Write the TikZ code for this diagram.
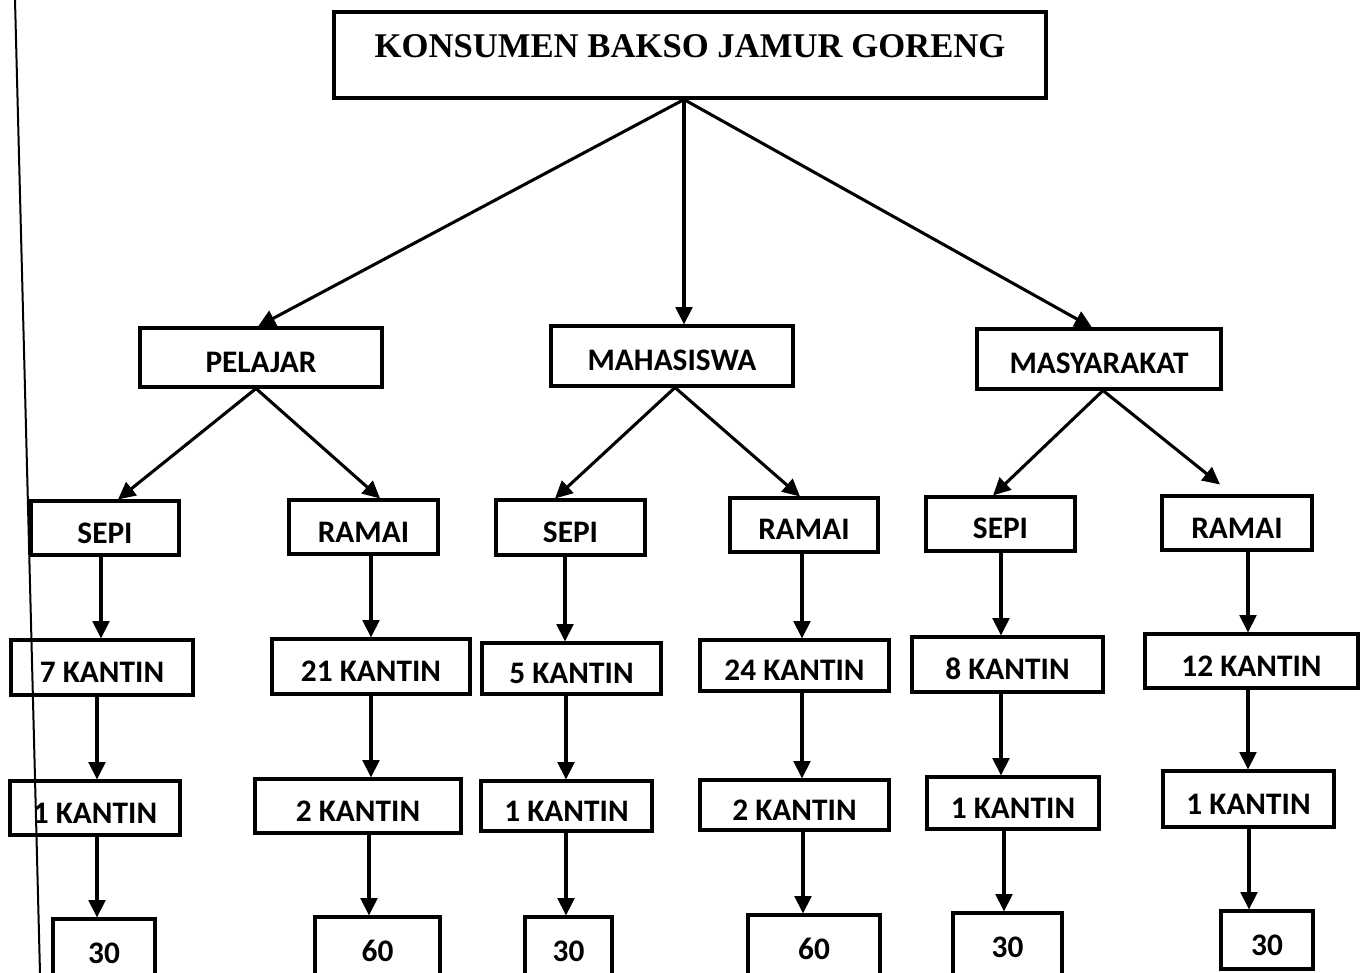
\documentclass[tikz,border=0pt]{standalone}
\usepackage{fontspec}
\usetikzlibrary{arrows.meta}
\newfontfamily\calfont{Carlito}
\newfontfamily\tnrfont{Liberation Serif}
\begin{document}
\begin{tikzpicture}[x=0.75pt,y=-0.75pt,
  box/.style={draw, line width=2.3pt, inner sep=0pt, text height=22.5pt, text depth=0pt, font=\calfont\bfseries\fontsize{23.5}{23.5}\selectfont},
  arr/.style={line width=2.3pt, -{Triangle[length=13pt,width=12.5pt]}},
  ]
\useasboundingbox (0,0) rectangle (1361,973);
\fill[white] (0,0) rectangle (1361,973);
% scan margin line
\draw[line width=1.5pt] (15,0) -- (40,973);
% nodes
\node[box, minimum width=534pt, minimum height=64.5pt, text height=19pt, text depth=15pt, font=\tnrfont\bfseries\fontsize{26}{26}\selectfont] (top) at (690,55) {KONSUMEN BAKSO JAMUR GORENG};
\node[box, minimum width=181.5pt, minimum height=44.25pt] (pel) at (261,357.5) {PELAJAR};
\node[box, minimum width=181.5pt, minimum height=45pt] (mah) at (672,356) {MAHASISWA};
\node[box, minimum width=183pt, minimum height=45pt] (mas) at (1099,359) {MASYARAKAT};
\node[box, minimum width=111pt, minimum height=40.5pt] (s1) at (105,528) {SEPI};
\node[box, minimum width=111.75pt, minimum height=40.5pt] (r1) at (363.5,527) {RAMAI};
\node[box, minimum width=111.75pt, minimum height=41.25pt] (s2) at (570.5,527.5) {SEPI};
\node[box, minimum width=111pt, minimum height=40.5pt] (r2) at (804,525) {RAMAI};
\node[box, minimum width=111.75pt, minimum height=40.5pt] (s3) at (1000.5,524) {SEPI};
\node[box, minimum width=112.5pt, minimum height=40.5pt] (r3) at (1237,523) {RAMAI};
\node[box, minimum width=136.5pt, minimum height=41.25pt] (k1) at (102,667.5) {7 KANTIN};
\node[box, minimum width=148.5pt, minimum height=41.25pt] (k2) at (371,666.5) {21 KANTIN};
\node[box, minimum width=134.25pt, minimum height=38.25pt] (k3) at (571.5,668.5) {5 KANTIN};
\node[box, minimum width=141.75pt, minimum height=38.25pt] (k4) at (794.5,665.5) {24 KANTIN};
\node[box, minimum width=143.25pt, minimum height=41.25pt] (k5) at (1007.5,664.5) {8 KANTIN};
\node[box, minimum width=159.75pt, minimum height=40.5pt] (k6) at (1251.5,661) {12 KANTIN};
\node[box, minimum width=127.5pt, minimum height=40.5pt] (o1) at (95,808) {1 KANTIN};
\node[box, minimum width=154.5pt, minimum height=40.5pt] (o2) at (358,806) {2 KANTIN};
\node[box, minimum width=128.25pt, minimum height=37.5pt] (o3) at (566.5,806) {1 KANTIN};
\node[box, minimum width=141.75pt, minimum height=37.5pt] (o4) at (794.5,805) {2 KANTIN};
\node[box, minimum width=129pt, minimum height=39pt] (o5) at (1013,803) {1 KANTIN};
\node[box, minimum width=128.25pt, minimum height=42pt] (o6) at (1248.5,799) {1 KANTIN};
\node[box, minimum width=76.5pt, minimum height=48pt, text height=19pt] (n1) at (104,951) {30};
\node[box, minimum width=93.75pt, minimum height=48pt, text height=19pt] (n2) at (377.5,949) {60};
\node[box, minimum width=65.25pt, minimum height=48pt, text height=19pt] (n3) at (568.5,949) {30};
\node[box, minimum width=99pt, minimum height=48pt, text height=19pt] (n4) at (814,947) {60};
\node[box, minimum width=81.75pt, minimum height=48pt, text height=19pt] (n5) at (1007.5,945) {30};
\node[box, minimum width=69pt, minimum height=43.5pt] (n6) at (1267,940) {30};
% column coordinates
\coordinate (c1a) at (101,0); \coordinate (c1b) at (97,0);
\coordinate (c2a) at (371,0); \coordinate (c2b) at (369,0);
\coordinate (c3a) at (565,0); \coordinate (c3b) at (566,0);
\coordinate (c4a) at (802,0); \coordinate (c4b) at (803,0);
\coordinate (c5a) at (1001,0); \coordinate (c5b) at (1004,0);
\coordinate (c6a) at (1248,0); \coordinate (c6b) at (1249,0);
% top level arrows
\draw[arr] ([xshift=-4.5pt]top.south) -- ([xshift=-2.25pt]pel.north);
\draw[arr] ([xshift=-4.5pt]top.south) -- ([xshift=9pt]mah.north);
\draw[arr] ([xshift=-4.5pt]top.south) -- ([xshift=-5.25pt]mas.north);
% second level arrows
\draw[arr] ([xshift=-3.75pt]pel.south) -- ([xshift=9.75pt]s1.north);
\draw[arr] ([xshift=-3.75pt]pel.south) -- ([xshift=12.4pt]r1.north);
\draw[arr] ([xshift=2.25pt]mah.south) -- ([xshift=-11.6pt]s2.north);
\draw[arr] ([xshift=2.25pt]mah.south) -- ([xshift=-3pt]r2.north);
\draw[arr] ([xshift=3pt]mas.south) -- ([xshift=-5.6pt]s3.north);
\draw[arr] ([xshift=3pt]mas.south) -- ([xshift=-12.75pt,yshift=7.5pt]r3.north);
% vertical arrows
\draw[arr] (s1.south -| c1a) -- (k1.north -| c1a);
\draw[arr] (k1.south -| c1b) -- (o1.north -| c1b);
\draw[arr] (o1.south -| c1b) -- (n1.north -| c1b);
\draw[arr] (r1.south -| c2a) -- (k2.north -| c2a);
\draw[arr] (k2.south -| c2a) -- (o2.north -| c2a);
\draw[arr] (o2.south -| c2b) -- (n2.north -| c2b);
\draw[arr] (s2.south -| c3a) -- (k3.north -| c3a);
\draw[arr] (k3.south -| c3b) -- (o3.north -| c3b);
\draw[arr] (o3.south -| c3b) -- (n3.north -| c3b);
\draw[arr] (r2.south -| c4a) -- (k4.north -| c4a);
\draw[arr] (k4.south -| c4a) -- (o4.north -| c4a);
\draw[arr] (o4.south -| c4b) -- (n4.north -| c4b);
\draw[arr] (s3.south -| c5a) -- (k5.north -| c5a);
\draw[arr] (k5.south -| c5a) -- (o5.north -| c5a);
\draw[arr] (o5.south -| c5b) -- (n5.north -| c5b);
\draw[arr] (r3.south -| c6a) -- (k6.north -| c6a);
\draw[arr] (k6.south -| c6a) -- (o6.north -| c6a);
\draw[arr] (o6.south -| c6b) -- (n6.north -| c6b);
\end{tikzpicture}
\end{document}
